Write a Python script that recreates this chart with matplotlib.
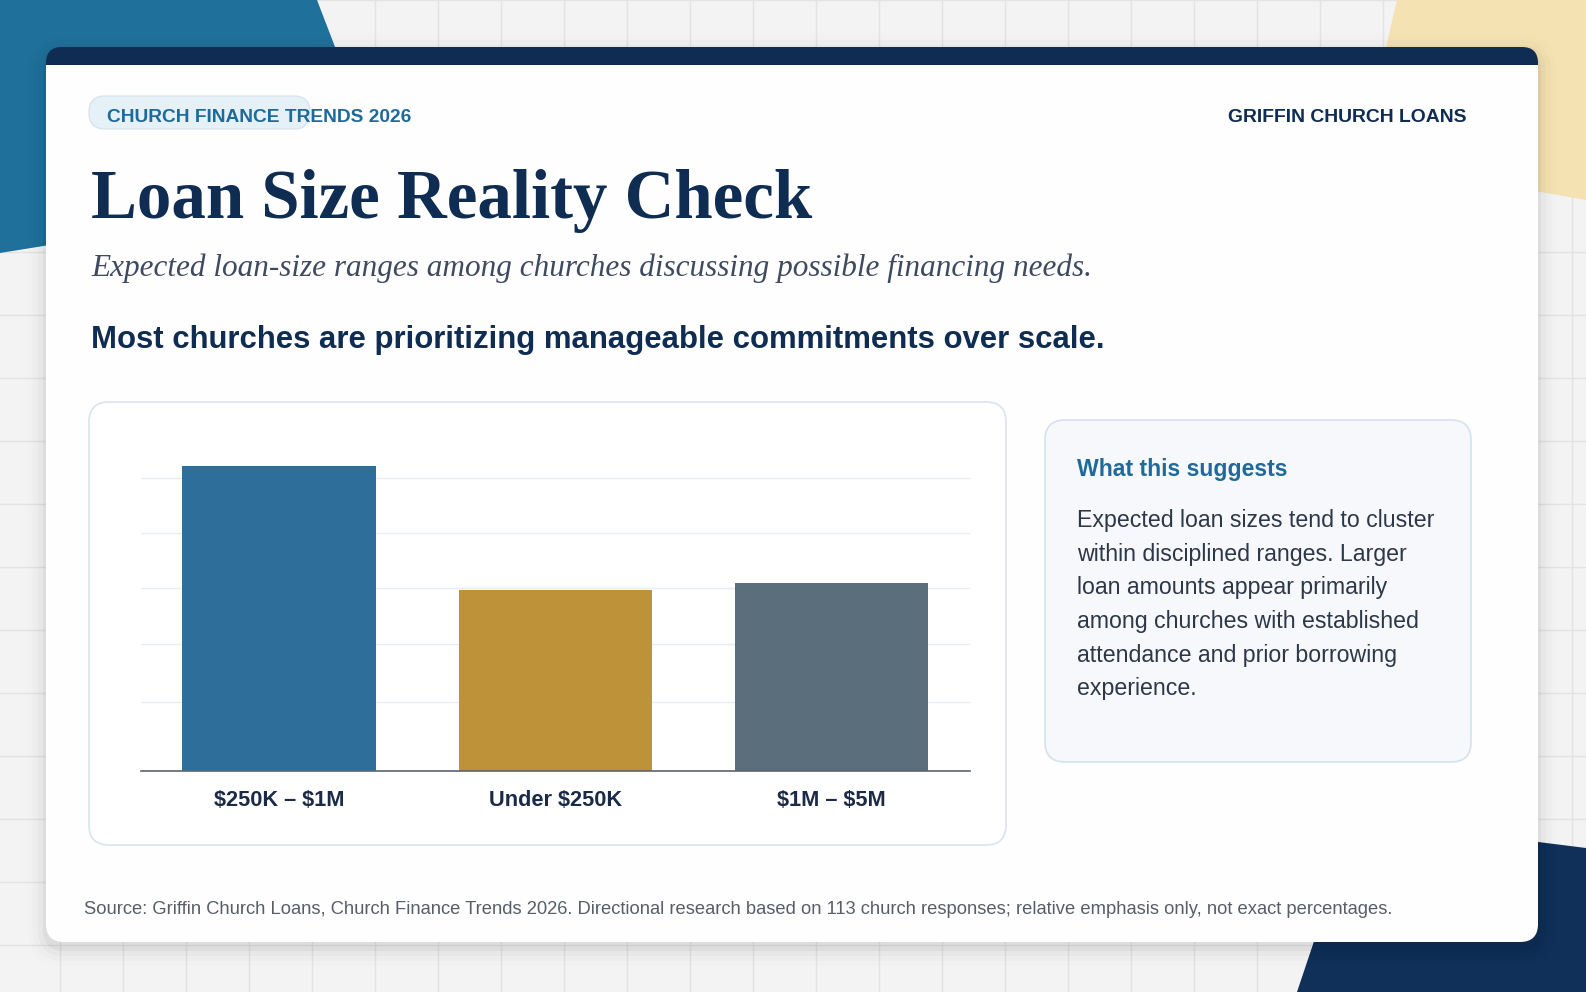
#!/usr/bin/env python3

import matplotlib
matplotlib.use('Agg')
import matplotlib.pyplot as plt
from matplotlib.patches import FancyBboxPatch, Rectangle, Polygon

plt.rcParams['text.parse_math'] = False

# data
categories = ['$250K – $1M', 'Under $250K', '$1M – $5M']
emphasis = [54.9, 32.6, 33.9]
grid_levels = [12.3, 22.8, 33.0, 42.8, 52.7]
bar_colors = ['#2d6e9b', '#be9238', '#5a6e7b']

pill_text = 'CHURCH FINANCE TRENDS 2026'
brand = 'GRIFFIN CHURCH LOANS'
title = 'Loan Size Reality Check'
subtitle = 'Expected loan-size ranges among churches discussing possible financing needs.'
headline = 'Most churches are prioritizing manageable commitments over scale.'
box_title = 'What this suggests'
box_lines = ['Expected loan sizes tend to cluster',
             'within disciplined ranges. Larger',
             'loan amounts appear primarily',
             'among churches with established',
             'attendance and prior borrowing',
             'experience.']
source = ('Source: Griffin Church Loans, Church Finance Trends 2026. Directional research '
          'based on 113 church responses; relative emphasis only, not exact percentages.')

NAVY = '#0f2c52'
BLUE = '#1f6a99'
SANS = 'Liberation Sans'
SERIF = 'Liberation Serif'

W, H = 1586, 992
fig = plt.figure(figsize=(W / 100, H / 100), dpi=100)
fig.patch.set_facecolor('#f3f3f3')

# background axes in pixel coordinates
bg = fig.add_axes([0, 0, 1, 1], zorder=0)
bg.set_xlim(0, W)
bg.set_ylim(H, 0)
bg.axis('off')

# grid paper
for gx in range(60, W, 63):
    bg.axvline(gx, color='#e3e3e3', lw=1, zorder=0)
for gy in range(0, H, 63):
    bg.axhline(gy, color='#e3e3e3', lw=1, zorder=0)

# decorative shapes
bg.add_patch(Polygon([(0, 0), (317, 0), (390, 190), (0, 253)], closed=True,
                     facecolor='#20709c', edgecolor='none', zorder=1))
bg.add_patch(Polygon([(1397, 0), (W, 0), (W, 200), (1360, 160)], closed=True,
                     facecolor='#f4e2b2', edgecolor='none', zorder=1))
bg.add_patch(Polygon([(1297, H), (W, H), (W, 848), (1355, 819)], closed=True,
                     facecolor='#10305a', edgecolor='none', zorder=1))

# card shadow
for i, a in enumerate([0.04, 0.025, 0.015, 0.008]):
    s = 3 + i * 5
    bg.add_patch(FancyBboxPatch((46 - s, 47 - s + 6), 1492 + 2 * s, 895 + 2 * s,
                                boxstyle='round,pad=0,rounding_size=%d' % (18 + s),
                                facecolor='#000000', alpha=a, edgecolor='none', zorder=2))

# card with navy top bar
bg.add_patch(FancyBboxPatch((46, 47), 1492, 60, boxstyle='round,pad=0,rounding_size=16',
                            facecolor=NAVY, edgecolor='none', zorder=3))
bg.add_patch(FancyBboxPatch((46, 65), 1492, 877, boxstyle='round,pad=0,rounding_size=18',
                            facecolor='#fefefe', edgecolor='none', zorder=3))
bg.add_patch(Rectangle((46, 65), 1492, 40, facecolor='#fefefe', edgecolor='none', zorder=3))

# header
bg.add_patch(FancyBboxPatch((89, 96), 221, 33, boxstyle='round,pad=0,rounding_size=16',
                            facecolor='#e5f0f7', edgecolor='#d6e6f1', lw=1, zorder=4))
bg.text(107, 117, pill_text, color=BLUE, fontsize=13.8, fontweight='bold', family=SANS,
        ha='left', va='center', zorder=5)
bg.text(1467, 117, brand, color=NAVY, fontsize=13.95, fontweight='bold', family=SANS,
        ha='right', va='center', zorder=5)
bg.text(91, 218, title, color=NAVY, fontsize=49.6, fontweight='bold', family=SERIF,
        ha='left', va='baseline', zorder=5)
bg.text(91, 276, subtitle, color='#3f4a61', fontsize=22.5, style='italic', family=SERIF,
        ha='left', va='baseline', zorder=5)
bg.text(91, 348, headline, color=NAVY, fontsize=22.4, fontweight='bold', family=SANS,
        ha='left', va='baseline', zorder=5)

# chart panel
bg.add_patch(FancyBboxPatch((89, 402), 917, 443, boxstyle='round,pad=0,rounding_size=20',
                            facecolor='#ffffff', edgecolor='#d9e4ee', lw=1.2, zorder=4))

# info box
bg.add_patch(FancyBboxPatch((1045, 420), 426, 342, boxstyle='round,pad=0,rounding_size=20',
                            facecolor='#f6f8fb', edgecolor='#d5e2ed', lw=1.2, zorder=4))
bg.text(1077, 476, box_title, color=BLUE, fontsize=16.6, fontweight='bold', family=SANS,
        ha='left', va='baseline', zorder=5)
for i, line in enumerate(box_lines):
    bg.text(1077, 527 + i * 33.7, line, color='#2e3748', fontsize=16.7, family=SANS,
            ha='left', va='baseline', zorder=5)

# source note
bg.text(84, 910, source, color='#585e68', fontsize=13.2, family=SANS,
        ha='left', va='center', zorder=5)

# bar chart
y0, ytop = 770.7, 437.7
ax = fig.add_axes([141 / W, 1 - y0 / H, (969.7 - 141) / W, (y0 - ytop) / H], zorder=1)
ax.set_facecolor('none')
ax.set_xlim(-0.5, len(categories) - 0.5)
ax.set_ylim(0, 60)
ax.bar(range(len(categories)), emphasis, width=0.7, color=bar_colors, zorder=2)
for g in grid_levels:
    ax.axhline(g, color='#e9edf1', lw=1, zorder=1)
for sp in ['top', 'right', 'left']:
    ax.spines[sp].set_visible(False)
ax.spines['bottom'].set_color('#5b6570')
ax.spines['bottom'].set_linewidth(1.2)
ax.spines['bottom'].set_zorder(3)
ax.set_yticks([])
ax.set_xticks(range(len(categories)))
ax.set_xticklabels(categories, fontsize=15.7, fontweight='bold', family=SANS, color='#1b2a47')
ax.tick_params(axis='x', length=0, pad=14)

fig.savefig('out.png', dpi=100)
